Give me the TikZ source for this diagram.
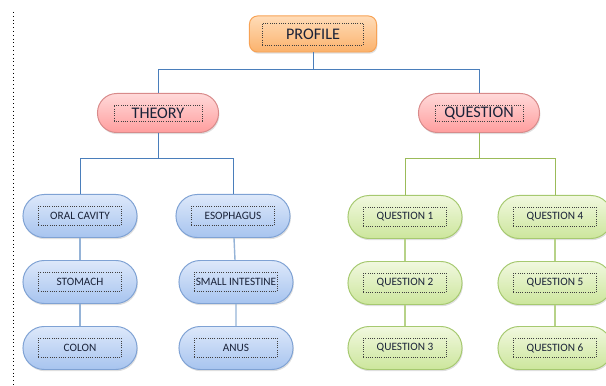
\documentclass[tikz,border=0pt]{standalone}
\usepackage{fontspec}
\setmainfont{Carlito}
\usetikzlibrary{shadows}

\definecolor{linkblue}{HTML}{4A7EBB}
\definecolor{stemblue}{HTML}{95B3D7}
\definecolor{linkgreen}{HTML}{9BBB59}
\definecolor{stemgreen}{HTML}{B7D288}
\definecolor{inktext}{HTML}{1A2238}
\definecolor{bluetop}{HTML}{DDE8FA}
\definecolor{bluebot}{HTML}{A7C4EF}
\definecolor{blueedge}{HTML}{7FA2D4}
\definecolor{greentop}{HTML}{F1F8DF}
\definecolor{greenbot}{HTML}{CCE69C}
\definecolor{greenedge}{HTML}{A6C970}
\definecolor{redtop}{HTML}{FFD9D9}
\definecolor{redbot}{HTML}{FF9E9E}
\definecolor{rededge}{HTML}{D88A8A}
\definecolor{orangetop}{HTML}{FFDCB8}
\definecolor{orangebot}{HTML}{FBB26C}
\definecolor{orangeedge}{HTML}{F7A255}

\tikzset{
  pill/.style={rectangle, rounded corners=0.53cm, minimum width=2.85cm, minimum height=1.075cm,
    line width=0.7pt, drop shadow={opacity=0.25, shadow xshift=0.6pt, shadow yshift=-1.2pt}},
  bluepill/.style={pill, draw=blueedge, top color=bluetop, bottom color=bluebot},
  greenpill/.style={pill, draw=greenedge, top color=greentop, bottom color=greenbot},
  redpill/.style={pill, rounded corners=0.48cm, minimum width=3.025cm, minimum height=0.975cm,
    draw=rededge, top color=redtop, bottom color=redbot},
  topbox/.style={pill, rounded corners=0.2cm, minimum width=3.175cm, minimum height=0.9cm,
    draw=orangeedge, top color=orangetop, bottom color=orangebot},
  tag/.style={draw=black!75, densely dotted, line width=0.6pt, inner sep=0pt,
    minimum width=2.075cm, minimum height=0.475cm, text=inktext,
    font=\fontsize{8}{9}\selectfont},
  bigtag/.style={tag, minimum width=2.2cm, minimum height=0.4cm, font=\fontsize{11.5}{13}\selectfont},
  link/.style={line width=0.6pt},
  stem/.style={line width=1pt}
}

\begin{document}
\begin{tikzpicture}[x=0.025cm,y=-0.025cm]
\useasboundingbox (0,0) rectangle (606,386);
\clip (0,0) rectangle (606,386);

% Margin rule
\draw[black, dotted, line width=0.7pt] (13,12) -- (13,386);

% Top level
\node[topbox] (profile) at (313,34) {};
\node[bigtag, minimum width=2.525cm, minimum height=0.55cm] (profile-t) at (profile) {PROFILE};

\node[redpill] (theory) at (158,113) {};
\node[bigtag] (theory-t) at (theory) {THEORY};
\node[redpill] (question) at (479,113) {};
\node[bigtag] (question-t) at (question) {QUESTION};

% Theory branch
\foreach \name/\txt/\x/\y in {oral/ORAL CAVITY/80/216, stomach/STOMACH/80/282, colon/COLON/80/348,
  esoph/ESOPHAGUS/233/216, small/SMALL INTESTINE/236/282, anus/ANUS/236/348}
{\node[bluepill] (\name) at (\x,\y) {};
\node[tag] (\name-t) at (\name) {\txt};}

% Question branch
\foreach \name/\txt/\x/\y in {q1/QUESTION 1/405/217, q2/QUESTION 2/405/283, q3/QUESTION 3/405/348,
  q4/QUESTION 4/555/217, q5/QUESTION 5/555/283, q6/QUESTION 6/555/348}
{\node[greenpill] (\name) at (\x,\y) {};
\node[tag] (\name-t) at (\name) {\txt};}

% Connectors
\draw[link, linkblue] (profile.south) -- ++(0,17) -| (theory.north);
\draw[link, linkblue] (profile.south) -- ++(0,17) -| (question.north);
\draw[link, linkblue] (theory.south) -- ++(0,25) -| (oral.north);
\draw[link, linkblue] (theory.south) -- ++(0,25) -| (esoph.north);
\draw[link, linkgreen] (question.south) -- ++(0,25) -| (q1.north);
\draw[link, linkgreen] (question.south) -- ++(0,25) -| (q4.north);

\draw[stem, stemblue] (oral) -- (stomach) (stomach) -- (colon);
\draw[stem, stemblue] (esoph) -- (small) (small) -- (anus);
\draw[stem, stemgreen] (q1) -- (q2) (q2) -- (q3);
\draw[stem, stemgreen] (q4) -- (q5) (q5) -- (q6);
\end{tikzpicture}
\end{document}
